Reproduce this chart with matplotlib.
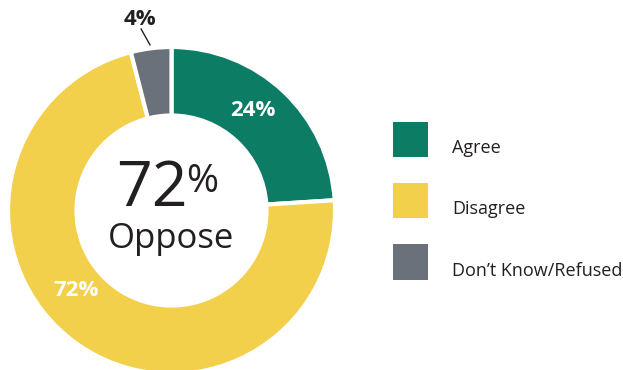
import numpy as np
import matplotlib.pyplot as plt

categories = ["Agree", "Disagree", "Don\u2019t Know/Refused"]
shares = [24, 72, 4]
colors = ["#0c7c64", "#f3d04b", "#6a717a"]
headline_value = 72
headline_word = "Oppose"

plt.rcParams["font.family"] = ["Open Sans", "DejaVu Sans"]
ink = "#231f20"

fig = plt.figure(figsize=(6.23, 3.70), dpi=100)
ax = fig.add_axes([0, 0, 1, 1])

# donut in pixel-like coordinates (origin bottom-left)
cx, cy = 171.5, 370 - 210.5
r_out, r_in = 163.5, 95.0

wedges, _ = ax.pie(
    shares,
    colors=colors,
    startangle=90,
    counterclock=False,
    center=(cx, cy),
    radius=r_out,
    wedgeprops=dict(width=r_out - r_in, edgecolor="white", linewidth=3),
)
ax.set_xlim(0, 623)
ax.set_ylim(0, 370)
ax.set_aspect("equal")
ax.axis("off")


def polar(r, deg):
    a = np.deg2rad(deg)
    return cx + r * np.cos(a), cy + r * np.sin(a)


# value labels
x, y = polar(129, 51)
ax.text(x, y, f"{shares[0]}%", color="white", fontsize=16, fontweight="bold",
        ha="center", va="center")
x, y = polar(124, -140)
ax.text(x, y, f"{shares[1]}%", color="white", fontsize=16, fontweight="bold",
        ha="center", va="center")

# small slice gets an outside label with a leader line
x0, y0 = polar(167, 97.4)
x1, y1 = polar(184, 99.5)
ax.plot([x0, x1], [y0, y1], color=ink, lw=1)
ax.text(x1 - 1, y1 + 4, f"{shares[2]}%", color=ink, fontsize=16, fontweight="bold",
        ha="center", va="baseline")

# headline in the hole
ax.text(cx - 20, cy + 21, f"{headline_value}", color=ink, fontsize=45,
        ha="center", va="center")
ax.text(cx + 15, cy + 47, "%", color=ink, fontsize=28, ha="left", va="top")
ax.text(cx, cy - 29, headline_word, color=ink, fontsize=25,
        ha="center", va="center")

# legend
box_y = [370 - 139.5, 370 - 200.5, 370 - 262]
for label, col, by in zip(categories, colors, box_y):
    ax.add_patch(plt.Rectangle((392.5, by - 17.5), 35.5, 35.5, color=col, lw=0))
    ax.text(452, by - 13.5, label, color=ink, fontsize=13, ha="left", va="baseline")

fig.savefig("out.png", dpi=100)
